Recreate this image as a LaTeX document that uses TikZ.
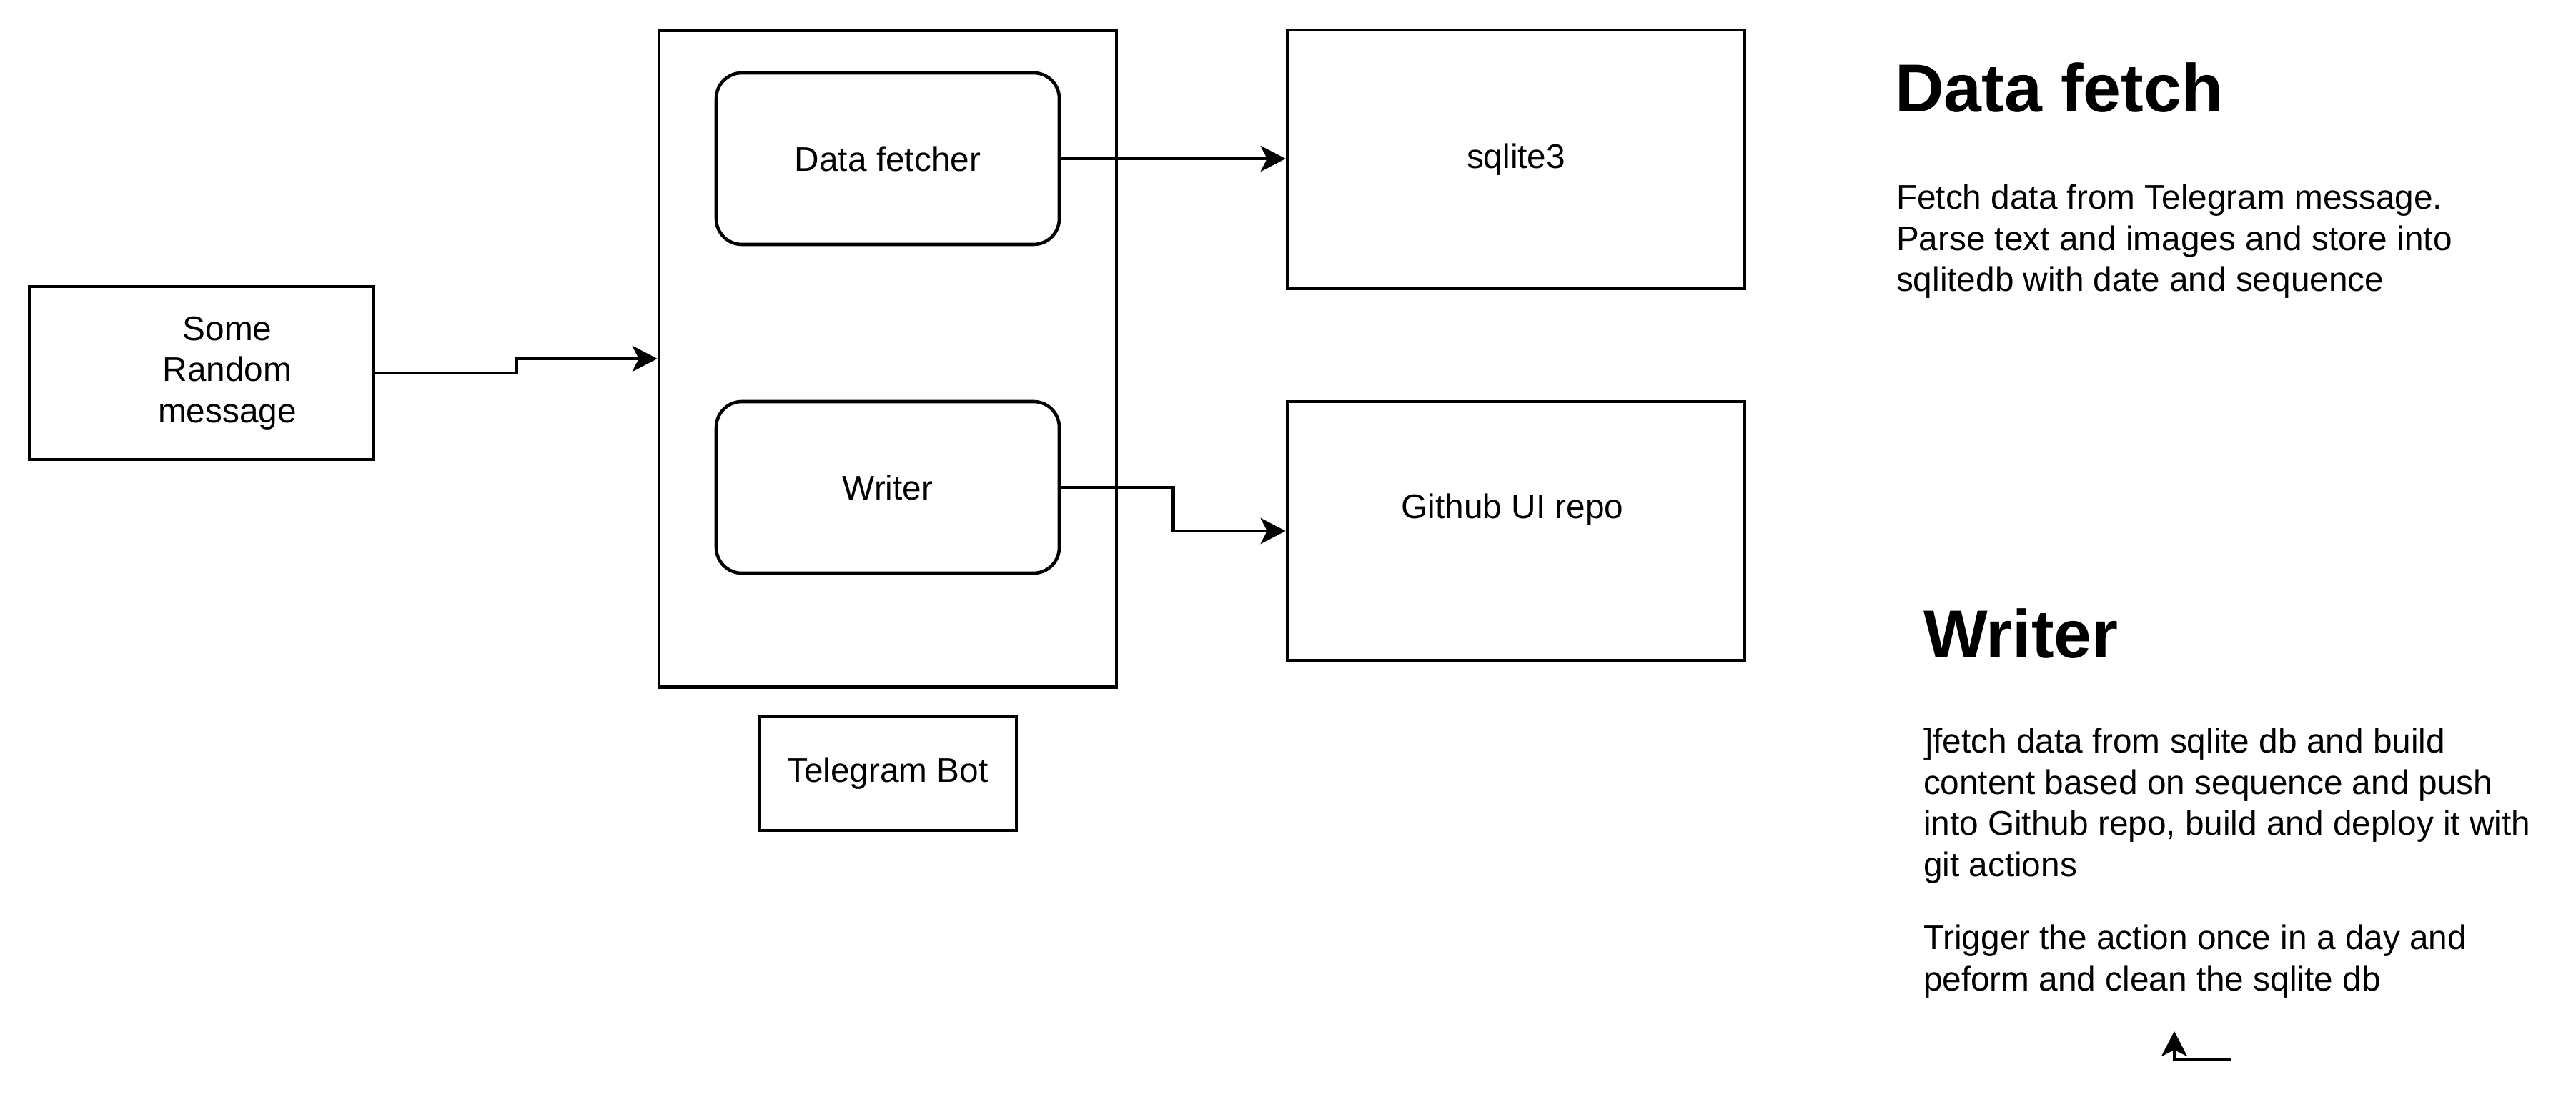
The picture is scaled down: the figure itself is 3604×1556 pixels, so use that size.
\documentclass[tikz,border=0pt]{standalone}
\usepackage{fontspec}
\setmainfont{Liberation Sans}
\usetikzlibrary{arrows.meta,calc}

\newcommand{\bodyfont}{\fontsize{9.55}{11.5}\selectfont}
\newcommand{\headfont}{\fontsize{19}{23}\selectfont\bfseries}
\newcommand{\linecolor}{black}

\tikzset{
  block/.style={rectangle,draw=\linecolor,line width=0.92pt,inner sep=0pt,font=\bodyfont,align=center},
  roundblock/.style={block,rounded corners=7.2pt},
  link/.style={draw=\linecolor,line width=0.92pt,-{Stealth[length=7pt,width=7.2pt,inset=1.8pt]}},
  heading/.style={anchor=base west,inner sep=0pt,font=\headfont},
  notes/.style={anchor=north west,inner sep=0pt,font=\bodyfont,align=left}
}

\begin{document}
\begin{tikzpicture}[x=0.2pt,y=-0.2pt]

  \useasboundingbox (0,0) rectangle (3604,1556);

  % incoming message
  \node[block,minimum width=96.4pt,minimum height=48.4pt,
        label={[font=\bodyfont,align=center,xshift=7.2pt]center:Some\\Random\\message}] (msg) at (282,522) {};

  % the bot and its two parts
  \node[block,minimum width=128pt,minimum height=183.8pt] (bot) at (1242,502) {};
  \node[roundblock,minimum width=96pt,minimum height=48pt] (fetcher) at (1242,222) {Data fetcher};
  \node[roundblock,minimum width=96pt,minimum height=48pt] (writer) at (1242,682) {Writer};
  \node[block,minimum width=72pt,minimum height=32pt] (botname) at (1242,1082) {Telegram Bot};

  % targets
  \node[block,minimum width=128pt,minimum height=72.4pt] (sqlite) at (2121,223) {sqlite3};
  \node[block,minimum width=128pt,minimum height=72.4pt,
        label={[font=\bodyfont,yshift=6pt,xshift=-1pt]center:Github UI repo}] (github) at (2121,743) {};

  \draw[link] (msg.east) -| ($(msg.east)!0.5!(bot.west)$) |- (bot.west);
  \draw[link] (fetcher.east) -- (fetcher.east -| sqlite.west);
  \draw[link] (writer.east) -| ($(writer.east)!0.5!(github.west)$) |- (github.west);

  % notes on the right
  \node[heading] (fetchhead) at (2650,157) {Data fetch};
  \node[notes] (fetchnotes) at (2652,257) {Fetch data from Telegram message.\\Parse text and images and store into\\sqlitedb with date and sequence};

  \node[heading] (writerhead) at (2690,921) {Writer};
  \node[notes] (writernotes) at (2690,1018) {]fetch data from sqlite db and build\\content based on sequence and push\\into Github repo, build and deploy it with\\git actions\\[9pt]Trigger the action once in a day and\\peform and clean the sqlite db};

  % loose arrow below the notes
  \coordinate (stubtail) at (3122,1482);
  \coordinate (stubtip) at (3042,1443);
  \draw[link] (stubtail) -| (stubtip);

\end{tikzpicture}
\end{document}
